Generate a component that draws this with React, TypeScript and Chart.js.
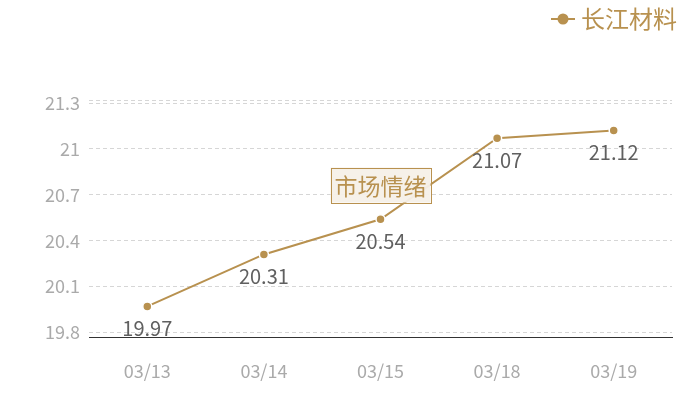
import React, { useEffect, useRef } from "react";
import { Chart, registerables } from "chart.js";

Chart.register(...registerables);

const categories = ["03/13", "03/14", "03/15", "03/18", "03/19"];
const values = [19.97, 20.31, 20.54, 21.07, 21.12];
const yTickValues = [19.8, 20.1, 20.4, 20.7, 21.0, 21.3];
const seriesName = "长江材料";
const watermark = "市场情绪";

const GOLD = "#b8914f";
const FONT = "'Noto Sans CJK SC', 'Noto Sans', sans-serif";

const extrasPlugin = {
  id: "extras",
  afterDatasetsDraw(chart: any) {
    const { ctx, chartArea } = chart;
    const meta = chart.getDatasetMeta(0);
    ctx.save();
    // data labels
    ctx.font = `20px ${FONT}`;
    ctx.fillStyle = "#606060";
    ctx.textAlign = "center";
    ctx.textBaseline = "middle";
    meta.data.forEach((pt: any, i: number) => {
      ctx.fillText(values[i].toFixed(2), pt.x, pt.y + 22);
    });
    // watermark box
    const cx = (chartArea.left + chartArea.right) / 2;
    const cy = chartArea.top + 85;
    ctx.font = `23px ${FONT}`;
    const w = ctx.measureText(watermark).width + 8;
    const h = 35;
    ctx.fillStyle = "rgba(245,240,232,0.95)";
    ctx.fillRect(cx - w / 2, cy - h / 2, w, h);
    ctx.strokeStyle = GOLD;
    ctx.lineWidth = 1;
    ctx.strokeRect(Math.round(cx - w / 2) + 0.5, Math.round(cy - h / 2) + 0.5, Math.round(w), h);
    ctx.fillStyle = GOLD;
    ctx.fillText(watermark, cx, cy + 1);
    // legend
    ctx.font = `24px ${FONT}`;
    ctx.textAlign = "right";
    const tx = 677;
    const ty = 19;
    ctx.fillText(seriesName, tx, ty);
    const tw = ctx.measureText(seriesName).width;
    const lx2 = tx - tw - 6;
    const lx1 = lx2 - 24;
    ctx.strokeStyle = GOLD;
    ctx.lineWidth = 2;
    ctx.beginPath();
    ctx.moveTo(lx1, ty);
    ctx.lineTo(lx2, ty);
    ctx.stroke();
    ctx.beginPath();
    ctx.arc((lx1 + lx2) / 2, ty, 5.5, 0, Math.PI * 2);
    ctx.fill();
    ctx.restore();
  },
};

export default function App() {
  const ref = useRef<HTMLCanvasElement>(null);
  useEffect(() => {
    if (!ref.current) return;
    const minV = Math.min(...values) - 0.2;
    const maxV = Math.max(...values) + 0.2;
    const chart = new Chart(ref.current, {
      type: "line",
      data: {
        labels: categories,
        datasets: [
          {
            label: seriesName,
            data: values,
            borderColor: GOLD,
            backgroundColor: GOLD,
            borderWidth: 2,
            pointRadius: 4.5,
            pointBorderColor: "#ffffff",
            pointBorderWidth: 1.5,
            pointBackgroundColor: GOLD,
            tension: 0,
          },
        ],
      },
      options: {
        animation: false,
        responsive: false,
        maintainAspectRatio: false,
        layout: { padding: { top: 100, right: 28, left: 0, bottom: 0 } },
        plugins: { legend: { display: false }, tooltip: { enabled: false } },
        scales: {
          x: {
            offset: true,
            grid: { display: false, drawTicks: false },
            border: { display: true, color: "#333333", width: 1 },
            ticks: { color: "#aaaaaa", font: { size: 18, family: FONT }, padding: 23 },
            afterFit: (s: any) => {
              s.height = 63;
            },
          },
          y: {
            min: minV,
            max: maxV,
            afterBuildTicks: (s: any) => {
              s.ticks = [minV, ...yTickValues, maxV].map((v) => ({ value: v }));
            },
            ticks: {
              color: "#aaaaaa",
              font: { size: 18, family: FONT },
              padding: 9,
              callback: (v: any, i: number, ticks: any[]) => {
                if (i === 0 || i === ticks.length - 1) return "";
                return String(Math.round(Number(v) * 10) / 10);
              },
            },
            grid: { color: "#d6d6d6", drawTicks: false },
            border: { display: false, dash: [4, 3] },
            afterFit: (s: any) => {
              s.width = 89;
            },
          },
        },
      },
      plugins: [extrasPlugin],
    });
    return () => chart.destroy();
  }, []);
  return (
    <div style={{ position: "absolute", left: 0, top: 0, width: 700, height: 400, background: "#fff" }}>
      <canvas ref={ref} width={700} height={400} style={{ width: 700, height: 400 }} />
    </div>
  );
}
